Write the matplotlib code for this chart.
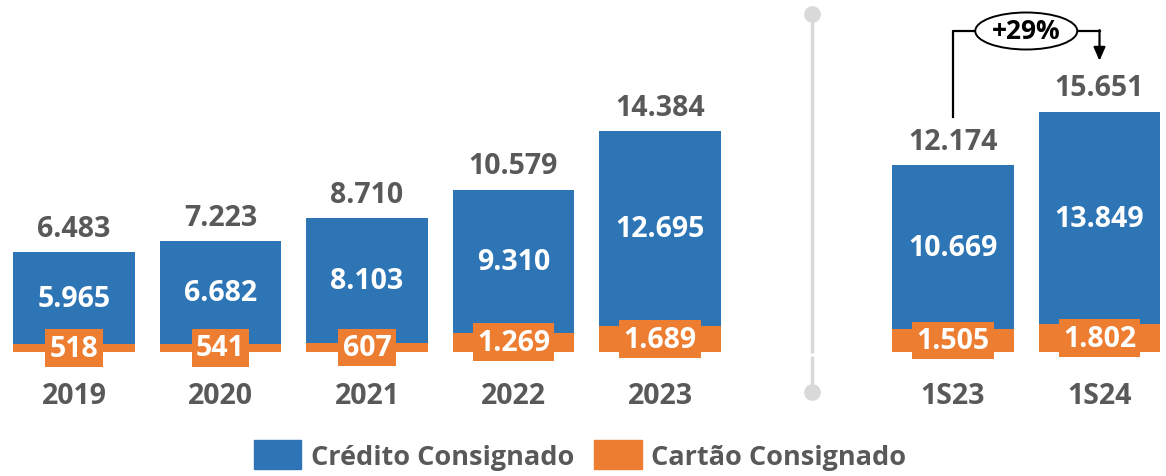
import matplotlib
matplotlib.use("Agg")
import matplotlib.pyplot as plt
from matplotlib.patches import Patch, Ellipse

FONT = ['Open Sans', 'DejaVu Sans']
plt.rcParams['font.family'] = FONT
plt.rcParams['font.weight'] = 'bold'

# data
categories = ['2019', '2020', '2021', '2022', '2023', '1S23', '1S24']
credito = [5965, 6682, 8103, 9310, 12695, 10669, 13849]
cartao = [518, 541, 607, 1269, 1689, 1505, 1802]
totals = [6483, 7223, 8710, 10579, 14384, 12174, 15651]
growth_label = '+29%'

BLUE = '#2E75B6'
ORANGE = '#ED7D31'
GRAY = '#595959'
SEP = '#D9D9D9'

def fmt(v):
    return f'{v:,}'.replace(',', '.')

W, H = 1166, 477
fig = plt.figure(figsize=(W / 100, H / 100), dpi=100)
ax = fig.add_axes([0, 0, 1, 1])

# pixel layout -> data scale
px_per_unit = 0.01535
base_px = 353
ax.set_ylim(-(H - base_px) / px_per_unit, base_px / px_per_unit)
ax.set_xlim(-74 / 146.5, (W - 74) / 146.5)
ax.axis('off')

x = [0, 1, 2, 3, 4, 6, 7]
bw = 0.83
ax.bar(x, cartao, width=bw, color=ORANGE, zorder=2)
ax.bar(x, credito, width=bw, bottom=cartao, color=BLUE, zorder=2)

px = 1 / px_per_unit  # one pixel in data units
tkw = dict(ha='center', va='center', fontsize=20.5, fontweight='bold')
for xi, c, o, t, cat in zip(x, credito, cartao, totals, categories):
    ax.text(xi, o + c / 2, fmt(c), color='white', zorder=4, **tkw)
    ax.text(xi, o / 2, fmt(o), color='white', zorder=4,
            bbox=dict(boxstyle='square,pad=0.15', fc=ORANGE, ec='none'), **tkw)
    ax.text(xi, t + 24 * px, fmt(t), color=GRAY, zorder=4, **tkw)
    ax.text(xi, -43 * px, cat, color=GRAY, **tkw)

# separator between annual and semester
sx = 5.04
ax.plot([sx, sx], [338 * px, -1 * px], color=SEP, lw=2.5, zorder=1,
        solid_capstyle='butt')
ax.plot([sx, sx], [-4 * px, -40 * px], color=SEP, lw=2.5, zorder=1,
        solid_capstyle='butt')
ax.plot([sx, sx], [338 * px, -40 * px], 'o', color=SEP, ms=11, zorder=1)

# growth bracket between 1S23 and 1S24
x0, x1 = x[5], x[6]
xm = (x0 + x1) / 2
yb = 321 * px
ell_w = 102 / 146.5
ax.plot([x0, x0, xm - ell_w / 2], [totals[5] + 48 * px, yb, yb],
        color='black', lw=1.6, zorder=3)
ax.plot([xm + ell_w / 2, x1], [yb, yb], color='black', lw=1.6, zorder=3)
ax.annotate('', xy=(x1, totals[6] + 51 * px), xytext=(x1, yb + 0.8 * px),
            arrowprops=dict(arrowstyle='-|>,head_width=0.35,head_length=0.8',
                            color='black', lw=1.6, shrinkA=0, shrinkB=0),
            zorder=3)
ax.add_patch(Ellipse((xm, yb), ell_w, 37 * px, fc='white', ec='black',
                     lw=1.4, zorder=4))
ax.text(xm, yb, growth_label, ha='center', va='center', color='black',
        fontsize=19, fontweight='bold', zorder=5)

handles = [Patch(color=BLUE, label='Crédito Consignado'),
           Patch(color=ORANGE, label='Cartão Consignado')]
leg = fig.legend(handles=handles, loc='center', ncol=2, frameon=False,
                 bbox_to_anchor=(580 / W, 1 - 456 / H),
                 prop=dict(family=FONT, size=19.5, weight='bold'),
                 labelcolor=GRAY, handlelength=1.75, handleheight=1.25,
                 handletextpad=0.35, columnspacing=0.75)

fig.savefig('out.png', dpi=100)
